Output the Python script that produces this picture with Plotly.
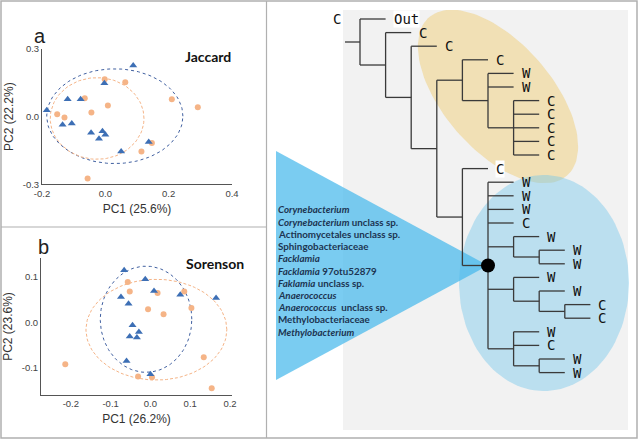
import numpy as np
import plotly.graph_objects as go

W, H = 639, 440

# ---------------- Panel a : Jaccard ----------------
jac_blue_x = [0.088, -0.003, -0.119, -0.078, -0.185, -0.135, -0.106, -0.045, -0.009, 0.000, -0.020, 0.137, 0.050]
jac_blue_y = [0.227, 0.148, 0.077, 0.077, 0.028, -0.036, -0.030, -0.071, -0.065, -0.080, -0.098, -0.112, -0.154]
jac_orange_x = [-0.002, 0.063, -0.065, 0.210, 0.292, 0.008, -0.152, -0.129, -0.044, 0.147, 0.114, -0.056]
jac_orange_y = [0.166, 0.153, 0.082, 0.077, 0.042, 0.049, 0.011, -0.004, 0.018, -0.117, -0.154, -0.274]
jac_blue_ellipse = [0.030, 0.002, 0.215, 0.210]      # cx, cy, rx, ry
jac_orange_ellipse = [-0.026, -0.008, 0.148, 0.181]
jac_xticks = [-0.2, 0.0, 0.2, 0.4]
jac_xticklabels = ["-0.2", "0.0", "0.2", "0.4"]
jac_yticks = [-0.3, 0.0, 0.3]
jac_yticklabels = ["-0.3", "0.0", "0.3"]

# ---------------- Panel b : Sorenson ----------------
sor_blue_x = [-0.066, -0.013, 0.009, -0.074, -0.055, 0.075, 0.165, -0.045, -0.029, -0.052, -0.034, -0.060, 0.000]
sor_blue_y = [0.115, 0.095, 0.069, 0.056, 0.041, 0.061, 0.054, -0.006, -0.021, -0.031, -0.033, -0.085, -0.114]
sor_orange_x = [-0.057, -0.052, 0.018, 0.085, 0.103, -0.006, 0.033, -0.214, 0.134, -0.031, 0.004, 0.154]
sor_orange_y = [0.089, 0.068, 0.065, 0.068, 0.032, 0.029, 0.018, -0.092, -0.077, -0.119, -0.121, -0.145]
sor_blue_ellipse = [-0.011, 0.007, 0.115, 0.117]
sor_orange_ellipse = [0.015, -0.016, 0.177, 0.111]
sor_xticks = [-0.2, -0.1, 0.0, 0.1, 0.2]
sor_xticklabels = ["-0.2", "-0.1", "0.0", "0.1", "0.2"]
sor_yticks = [-0.1, 0.0, 0.1]
sor_yticklabels = ["-0.1", "0.0", "0.1"]

# ---------------- Tree (nested clades, leaves = group labels) ----------------
tree = ["Out",
        ["C",
         ["C",
          [["C", ["W", "W", ["C", "C", "C", "C", "C"]]],
           ["C", ["W", "W", "W", "C",
                  ["W", ["W", "W"]],
                  ["W", ["W", ["C", "C"]]],
                  ["W", "C", ["W", "W"]]]]]]]]
highlight_path = (1, 1, 1, 1, 1)          # clade marked with the black dot
white_bg_paths = [(0,), (1, 1, 1, 1, 0)]  # labels drawn on white boxes
extra_label = "C"

taxa = ["<i>Corynebacterium</i>",
        "<i>Corynebacterium</i> unclass sp.",
        "Actinomycetales unclass sp.",
        "Sphingobacteriaceae",
        "<i>Facklamia</i>",
        "<i>Facklamia</i> 97otu52879",
        "<i>Faklamia</i> unclass sp.",
        "<i>Anaerococcus</i>",
        "<i>Anaerococcus</i>\u00a0 unclass sp.",
        "Methylobacteriaceae",
        "<i>Methylobacterium</i>"]

# ---------------- styling constants ----------------
BLUE = "#3d6fb5"
ORANGE = "#f5b487"
TICKFONT = dict(family="Liberation Sans, Arial", size=9.5, color="#444")
TITLEFONT = dict(family="Liberation Sans, Arial", size=12, color="#333")

X0, STEP, Y0, DY = 360.0, 25.6, 19.0, 13.6


def ellipse(cx, cy, rx, ry, ang_deg=0.0, n=120):
    t = np.linspace(0, 2 * np.pi, n)
    a = np.deg2rad(ang_deg)
    ex, ey = rx * np.cos(t), ry * np.sin(t)
    return cx + ex * np.cos(a) - ey * np.sin(a), cy + ex * np.sin(a) + ey * np.cos(a)


fig = go.Figure()


def pca_panel(xa, ya, bx, by, ox, oy, bell, oell):
    ex, ey = ellipse(*bell)
    fig.add_trace(go.Scatter(x=ex, y=ey, mode="lines", xaxis=xa, yaxis=ya,
                             line=dict(color="#3f5fa0", width=1, dash="dot"), hoverinfo="skip"))
    ex, ey = ellipse(*oell)
    fig.add_trace(go.Scatter(x=ex, y=ey, mode="lines", xaxis=xa, yaxis=ya,
                             line=dict(color=ORANGE, width=1, dash="3px,2px"), hoverinfo="skip"))
    fig.add_trace(go.Scatter(x=ox, y=oy, mode="markers", xaxis=xa, yaxis=ya,
                             marker=dict(symbol="circle", size=6, color=ORANGE)))
    fig.add_trace(go.Scatter(x=bx, y=by, mode="markers", xaxis=xa, yaxis=ya,
                             marker=dict(symbol="triangle-up", size=7, color=BLUE)))


pca_panel("x", "y", jac_blue_x, jac_blue_y, jac_orange_x, jac_orange_y, jac_blue_ellipse, jac_orange_ellipse)
pca_panel("x2", "y2", sor_blue_x, sor_blue_y, sor_orange_x, sor_orange_y, sor_blue_ellipse, sor_orange_ellipse)

# ---------------- tree layout ----------------
seg_x, seg_y = [], []
leaves = []
nodes = {}
counter = [0]


def layout(node, depth, path):
    x = X0 + depth * STEP
    if isinstance(node, str):
        y = Y0 + counter[0] * DY
        counter[0] += 1
        leaves.append((x, y, node, path))
        return y
    ys = [layout(ch, depth + 1, path + (i,)) for i, ch in enumerate(node)]
    seg_x.extend([x, x, None])
    seg_y.extend([ys[0], ys[-1], None])
    for cy in ys:
        seg_x.extend([x, x + STEP, None])
        seg_y.extend([cy, cy, None])
    y = (ys[0] + ys[-1]) / 2
    nodes[path] = (x, y)
    return y


root_y = layout(tree, 0, ())
seg_x.extend([X0 - 15, X0, None])
seg_y.extend([root_y, root_y, None])

hx, hy = nodes[highlight_path]

# coloured clade ellipses
ox_, oy_ = ellipse(498, 96.5, 105, 54, 48.9)
fig.add_trace(go.Scatter(x=ox_, y=oy_, mode="lines", fill="toself", xaxis="x3", yaxis="y3",
                         fillcolor="rgba(240,205,120,0.5)", line=dict(width=0), hoverinfo="skip"))
bx_, by_ = ellipse(544, 283, 85, 108, 0)
fig.add_trace(go.Scatter(x=bx_, y=by_, mode="lines", fill="toself", xaxis="x3", yaxis="y3",
                         fillcolor="rgba(120,200,235,0.45)", line=dict(width=0), hoverinfo="skip"))
# callout triangle
fig.add_trace(go.Scatter(x=[276, hx, 276, 276], y=[151, hy, 380, 151], mode="lines", fill="toself",
                         xaxis="x3", yaxis="y3", fillcolor="rgba(70,185,235,0.72)",
                         line=dict(width=0), hoverinfo="skip"))
# branches
fig.add_trace(go.Scatter(x=seg_x, y=seg_y, mode="lines", xaxis="x3", yaxis="y3",
                         line=dict(color="#3a3a3a", width=1.3), hoverinfo="skip"))
fig.add_trace(go.Scatter(x=[hx], y=[hy], mode="markers", xaxis="x3", yaxis="y3",
                         marker=dict(size=14, color="black")))

LABFONT = dict(family="DejaVu Sans Mono", size=14, color="#111")
annotations = []
for (lx, ly, lab, path) in leaves:
    annotations.append(dict(x=lx + 7, y=ly, xref="x3", yref="y3", text=lab, showarrow=False,
                            xanchor="left", yanchor="middle", borderpad=0,
                            bgcolor="white" if path in white_bg_paths else None,
                            font=LABFONT))
annotations.append(dict(x=337, y=Y0, xref="x3", yref="y3", text=extra_label, showarrow=False,
                        xanchor="center", yanchor="middle", bgcolor="white", borderpad=0,
                        font=LABFONT))
for i, t in enumerate(taxa):
    annotations.append(dict(x=277, y=209.3 + i * 12.24, xref="x3", yref="y3", text=t, showarrow=False,
                            xanchor="left", yanchor="middle", borderpad=0,
                            font=dict(family="Lato", size=9.8, color="#1d3552", weight="bold")))


def px(xp):
    return xp / W


def py(yp):
    return 1 - yp / H


annotations += [
    dict(x=px(40), y=py(36), xref="paper", yref="paper", text="a", showarrow=False,
         xanchor="center", yanchor="middle",
         font=dict(family="Liberation Sans, Arial", size=20, color="#222")),
    dict(x=px(43), y=py(247), xref="paper", yref="paper", text="b", showarrow=False,
         xanchor="center", yanchor="middle",
         font=dict(family="Liberation Sans, Arial", size=20, color="#222")),
    dict(x=px(207.5), y=py(57), xref="paper", yref="paper", text="<b>Jaccard</b>", showarrow=False,
         xanchor="center", yanchor="middle",
         font=dict(family="Lato", size=14, color="#111")),
    dict(x=px(215), y=py(263), xref="paper", yref="paper", text="<b>Sorenson</b>", showarrow=False,
         xanchor="center", yanchor="middle",
         font=dict(family="Lato", size=14, color="#111")),
]

shapes = [
    dict(type="rect", xref="x3", yref="y3", x0=343, x1=628, y0=10, y1=430,
         fillcolor="#f2f2f2", line=dict(width=0), layer="below"),
    dict(type="rect", xref="paper", yref="paper", x0=px(1), x1=px(637), y0=py(438), y1=py(1),
         line=dict(color="#b0b0b0", width=1.5), layer="above"),
    dict(type="line", xref="paper", yref="paper", x0=px(266.5), x1=px(266.5), y0=py(438), y1=py(1),
         line=dict(color="#b0b0b0", width=1.2), layer="above"),
    dict(type="line", xref="paper", yref="paper", x0=px(1), x1=px(266.5), y0=py(227), y1=py(227),
         line=dict(color="#b0b0b0", width=1.2), layer="above"),
]

axis_common = dict(showgrid=False, zeroline=False, showline=True, linecolor="#555", linewidth=1,
                   ticks="", tickfont=TICKFONT, fixedrange=True, automargin=False)

fig.update_layout(
    width=W, height=H, margin=dict(l=0, r=0, t=0, b=0, autoexpand=False),
    paper_bgcolor="white", plot_bgcolor="rgba(0,0,0,0)", showlegend=False,
    xaxis=dict(domain=[px(42), px(232)], range=[-0.2, 0.4], anchor="y",
               tickvals=jac_xticks, ticktext=jac_xticklabels,
               title=dict(text="PC1 (25.6%)", font=TITLEFONT, standoff=6), **axis_common),
    yaxis=dict(domain=[py(184.3), py(49)], range=[-0.3, 0.3], anchor="x",
               tickvals=jac_yticks, ticktext=jac_yticklabels,
               title=dict(text="PC2 (22.2%)", font=TITLEFONT, standoff=6), **axis_common),
    xaxis2=dict(domain=[px(41), px(232)], range=[-0.275, 0.205], anchor="y2",
                tickvals=sor_xticks, ticktext=sor_xticklabels,
                title=dict(text="PC1 (26.2%)", font=TITLEFONT, standoff=6), **axis_common),
    yaxis2=dict(domain=[py(395), py(258)], range=[-0.160, 0.142], anchor="x2",
                tickvals=sor_yticks, ticktext=sor_yticklabels,
                title=dict(text="PC2 (23.6%)", font=TITLEFONT, standoff=6), **axis_common),
    xaxis3=dict(domain=[0, 1], range=[0, W], anchor="y3", visible=False, fixedrange=True, automargin=False),
    yaxis3=dict(domain=[0, 1], range=[H, 0], anchor="x3", visible=False, fixedrange=True, automargin=False),
    annotations=annotations, shapes=shapes,
)

# remove the browser's default 8px page margin so the figure sits at the window's corner
fig.write_html("out.html", config={"displayModeBar": False},
               post_script="document.body.style.margin='0';")
